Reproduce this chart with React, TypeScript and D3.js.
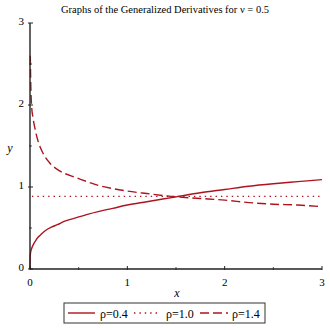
import React from "react";
import * as d3 from "d3";

const title = "Graphs of the Generalized Derivatives for ν = 0.5";
const xTicks = [0, 1, 2, 3];
const yTicks = [0, 1, 2, 3];
const minorTicks = [0.5, 1.5, 2.5];

const rho04X = [0, 0.002, 0.006, 0.017, 0.035, 0.06, 0.085, 0.12, 0.16, 0.22, 0.28, 0.35, 0.46, 0.6, 0.7, 0.85, 1.0, 1.2, 1.5, 1.75, 2.0, 2.25, 2.5, 2.75, 3.0];
const rho04Y = [0, 0.14, 0.2, 0.25, 0.3, 0.35, 0.39, 0.43, 0.47, 0.51, 0.54, 0.58, 0.62, 0.67, 0.7, 0.74, 0.78, 0.82, 0.88, 0.93, 0.97, 1.01, 1.04, 1.065, 1.09];

const rho10X = [0.02, 3.0];
const rho10Y = [0.886, 0.886];

const rho14X = [0.003, 0.008, 0.017, 0.03, 0.05, 0.085, 0.13, 0.205, 0.3, 0.46, 0.6, 0.7, 0.85, 1.0, 1.2, 1.5, 1.75, 2.0, 2.25, 2.5, 2.75, 3.0];
const rho14Y = [2.6, 2.25, 1.98, 1.85, 1.72, 1.55, 1.42, 1.29, 1.2, 1.12, 1.06, 1.02, 0.98, 0.95, 0.92, 0.88, 0.86, 0.84, 0.81, 0.79, 0.78, 0.76];

const legendLabels = ["ρ=0.4", "ρ=1.0", "ρ=1.4"];

const RED = "#ad1420";

export default function App() {
  const x = d3.scaleLinear().domain([0, 3]).range([30, 322]);
  const y = d3.scaleLinear().domain([0, 3]).range([269, 23]);
  const line = (xs: number[], ys: number[]) =>
    d3
      .line<number>()
      .x((_, i) => x(xs[i]))
      .y((_, i) => y(ys[i]))
      .curve(d3.curveMonotoneX)(xs.map((_, i) => i)) || "";

  const font = "'Liberation Serif', 'Times New Roman', serif";
  const series = [
    { d: line(rho04X, rho04Y), dash: undefined, w: 1.4 },
    { d: line(rho10X, rho10Y), dash: "1.4,4", w: 1.4 },
    { d: line(rho14X, rho14Y), dash: "9,4", w: 1.4 },
  ];
  const legendLines = [
    { x1: 68, x2: 95, dash: undefined },
    { x1: 134, x2: 157, dash: "1.4,4" },
    { x1: 200, x2: 228, dash: "9,4" },
  ];
  const legendTextX = [100, 166, 232];

  return (
    <svg width={330} height={330} style={{ position: "absolute", left: 0, top: 0, background: "#fff" }}>
      <text x={165} y={13} textAnchor="middle" fontFamily={font} fontSize={10.5}>
        {title}
      </text>
      {series.map((s, i) => (
        <path key={i} d={s.d} fill="none" stroke={RED} strokeWidth={s.w} strokeDasharray={s.dash} />
      ))}
      <line x1={x(0)} x2={x(3)} y1={y(0)} y2={y(0)} stroke="#222" strokeWidth={1.4} />
      <line x1={x(0)} x2={x(0)} y1={y(0)} y2={y(3)} stroke="#222" strokeWidth={1.4} />
      {xTicks.map((t) => (
        <g key={"xt" + t}>
          <line x1={x(t)} x2={x(t)} y1={y(0) - 3} y2={y(0) + 1} stroke="#222" strokeWidth={1} />
          <text x={x(t)} y={y(0) + 17} textAnchor="middle" fontFamily={font} fontSize={11}>
            {t}
          </text>
        </g>
      ))}
      {minorTicks.map((t) => (
        <line key={"xm" + t} x1={x(t)} x2={x(t)} y1={y(0) - 2} y2={y(0) + 1} stroke="#222" strokeWidth={0.8} />
      ))}
      {yTicks.map((t) => (
        <g key={"yt" + t}>
          <line x1={x(0) - 2} x2={x(0) + 3} y1={y(t)} y2={y(t)} stroke="#222" strokeWidth={1} />
          <text x={x(0) - 6} y={y(t) + 2} textAnchor="end" fontFamily={font} fontSize={11}>
            {t}
          </text>
        </g>
      ))}
      {minorTicks.map((t) => (
        <line key={"ym" + t} x1={x(0) - 1} x2={x(0) + 2} y1={y(t)} y2={y(t)} stroke="#222" strokeWidth={0.8} />
      ))}
      <text x={10} y={152} textAnchor="middle" fontFamily={font} fontSize={12} fontStyle="italic">
        y
      </text>
      <text x={177} y={297} textAnchor="middle" fontFamily={font} fontSize={12} fontStyle="italic">
        x
      </text>
      <rect x={64} y={303} width={201} height={20} fill="#fff" stroke="#333" strokeWidth={1} />
      {legendLines.map((l, i) => (
        <line key={"ll" + i} x1={l.x1} x2={l.x2} y1={313} y2={313} stroke={RED} strokeWidth={1.4} strokeDasharray={l.dash} />
      ))}
      {legendLabels.map((s, i) => (
        <text key={"lt" + i} x={legendTextX[i]} y={318} fontFamily={font} fontSize={12}>
          {s}
        </text>
      ))}
    </svg>
  );
}
